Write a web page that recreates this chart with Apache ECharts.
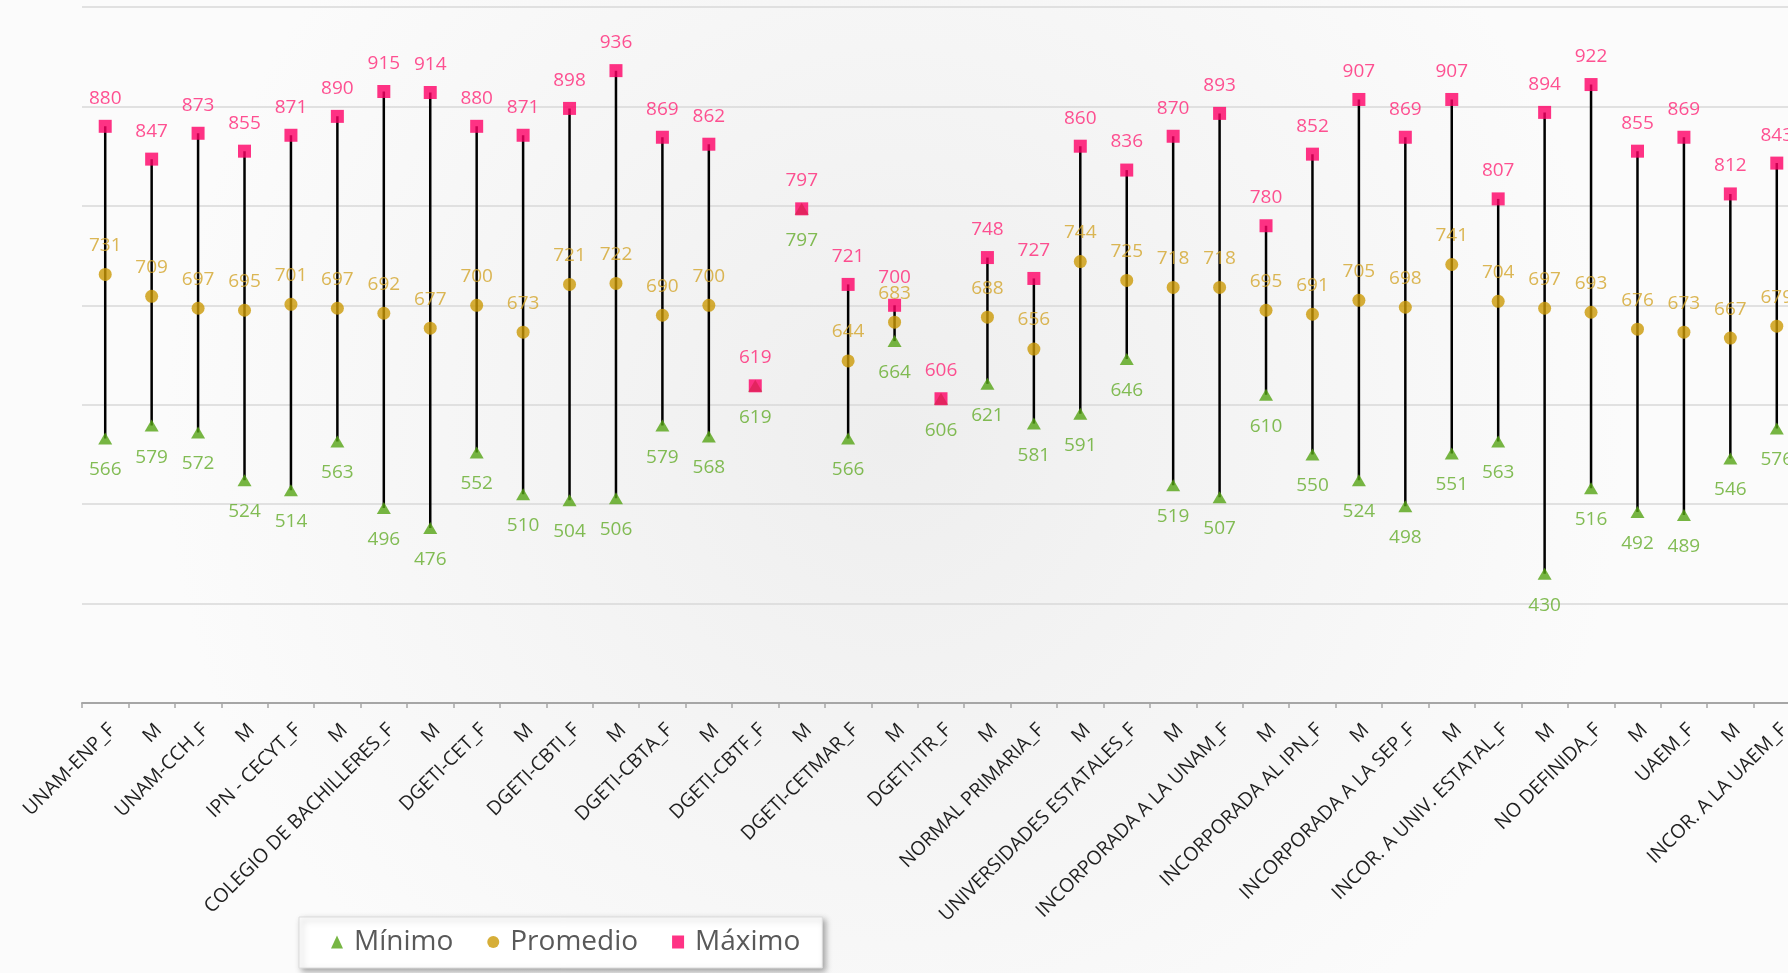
<!DOCTYPE html>
<html>
<head>
<meta charset="utf-8">
<script src="https://cdn.jsdelivr.net/npm/echarts@6/dist/echarts.min.js"></script>
<style>
html,body{margin:0;padding:0;}
#chart{width:1788px;height:973px;}
</style>
</head>
<body>
<div id="chart"></div>
<script>
const categories = [
  'UNAM-ENP_F','M','UNAM-CCH_F','M','IPN - CECYT_F','M','COLEGIO DE BACHILLERES_F','M',
  'DGETI-CET_F','M','DGETI-CBTI_F','M','DGETI-CBTA_F','M','DGETI-CBTF_F','M',
  'DGETI-CETMAR_F','M','DGETI-ITR_F','M','NORMAL PRIMARIA_F','M','UNIVERSIDADES ESTATALES_F','M',
  'INCORPORADA A LA UNAM_F','M','INCORPORADA AL IPN_F','M','INCORPORADA A LA SEP_F','M',
  'INCOR. A UNIV. ESTATAL_F','M','NO DEFINIDA_F','M','UAEM_F','M','INCOR. A LA UAEM_F'
];
const maxValues = [880,847,873,855,871,890,915,914,880,871,898,936,869,862,619,797,721,700,606,748,727,860,836,870,893,780,852,907,869,907,807,894,922,855,869,812,843];
const avgValues = [731,709,697,695,701,697,692,677,700,673,721,722,690,700,null,null,644,683,null,688,656,744,725,718,718,695,691,705,698,741,704,697,693,676,673,667,679];
const minValues = [566,579,572,524,514,563,496,476,552,510,504,506,579,568,619,797,566,664,606,621,581,591,646,519,507,610,550,524,498,551,563,430,516,492,489,546,576];
const yTicks = {min: 300, max: 1000, interval: 100};

const FONT = '"Open Sans", "Noto Sans", sans-serif';
const chart = echarts.init(document.getElementById('chart'));

const rangeData = categories.map((c, i) => [i, minValues[i], maxValues[i]]);

function labelStyle(color, pos, dist) {
  return {
    show: true, position: pos, distance: dist, color: color,
    fontFamily: FONT, fontSize: 19
  };
}

chart.setOption({
  backgroundColor: {
    type: 'radial', x: 0.5, y: 0.45, r: 0.75,
    colorStops: [{offset: 0, color: '#eeeeee'}, {offset: 1, color: '#fbfbfb'}]
  },
  animation: false,
  grid: {left: 82, top: 7, width: 1718, height: 696, containLabel: false, outerBoundsMode: 'none'},
  legend: {
    data: ['Mínimo', 'Promedio', 'Máximo'],
    left: 299, top: 917,
    orient: 'horizontal',
    itemWidth: 12, itemHeight: 13, itemGap: 34,
    padding: [11, 22, 12, 32],
    backgroundColor: '#ffffff',
    borderColor: '#dcdcdc', borderWidth: 1,
    shadowColor: 'rgba(0,0,0,0.35)', shadowBlur: 6, shadowOffsetX: 3, shadowOffsetY: 3,
    textStyle: {fontFamily: FONT, fontSize: 28, color: '#595959', padding: [0, 0, 0, 6]}
  },
  xAxis: {
    type: 'category',
    data: categories,
    boundaryGap: true,
    axisLine: {show: true, lineStyle: {color: '#a6a6a6', width: 2}},
    axisTick: {show: true, alignWithLabel: false, length: 5, lineStyle: {color: '#a6a6a6', width: 1.5}},
    axisLabel: {rotate: 45, interval: 0, margin: 17, verticalAlign: 'top', align: 'right',
      fontFamily: FONT, fontSize: 19.5, color: '#1f1f1f'},
    splitLine: {show: false}
  },
  yAxis: {
    type: 'value',
    min: yTicks.min, max: yTicks.max, interval: yTicks.interval,
    axisLine: {show: false}, axisTick: {show: false}, axisLabel: {show: false},
    splitLine: {show: true, lineStyle: {color: '#d9d9d9', width: 1.5}}
  },
  series: [
    {
      type: 'custom', name: 'range', silent: true, z: 1,
      data: rangeData,
      encode: {x: 0, y: [1, 2]},
      renderItem: function (params, api) {
        const lo = api.coord([api.value(0), api.value(1)]);
        const hi = api.coord([api.value(0), api.value(2)]);
        return {
          type: 'line',
          shape: {x1: lo[0], y1: lo[1], x2: hi[0], y2: hi[1]},
          style: {stroke: '#000000', lineWidth: 2.5}
        };
      }
    },
    {
      type: 'scatter', name: 'Mínimo', z: 3,
      symbol: 'triangle', symbolSize: [14, 12],
      itemStyle: {color: '#55A414'},
      label: labelStyle('#64AD2B', 'bottom', 16),
      data: minValues
    },
    {
      type: 'scatter', name: 'Promedio', z: 4,
      symbol: 'circle', symbolSize: 13,
      itemStyle: {color: '#CC9A06'},
      label: labelStyle('#D3A52A', 'top', 13),
      data: avgValues
    },
    {
      type: 'scatter', name: 'Máximo', z: 5,
      symbol: 'rect', symbolSize: 13,
      itemStyle: {color: '#FF0066'},
      label: labelStyle('#FF2677', 'top', 12),
      data: maxValues
    }
  ]
});
</script>
</body>
</html>
